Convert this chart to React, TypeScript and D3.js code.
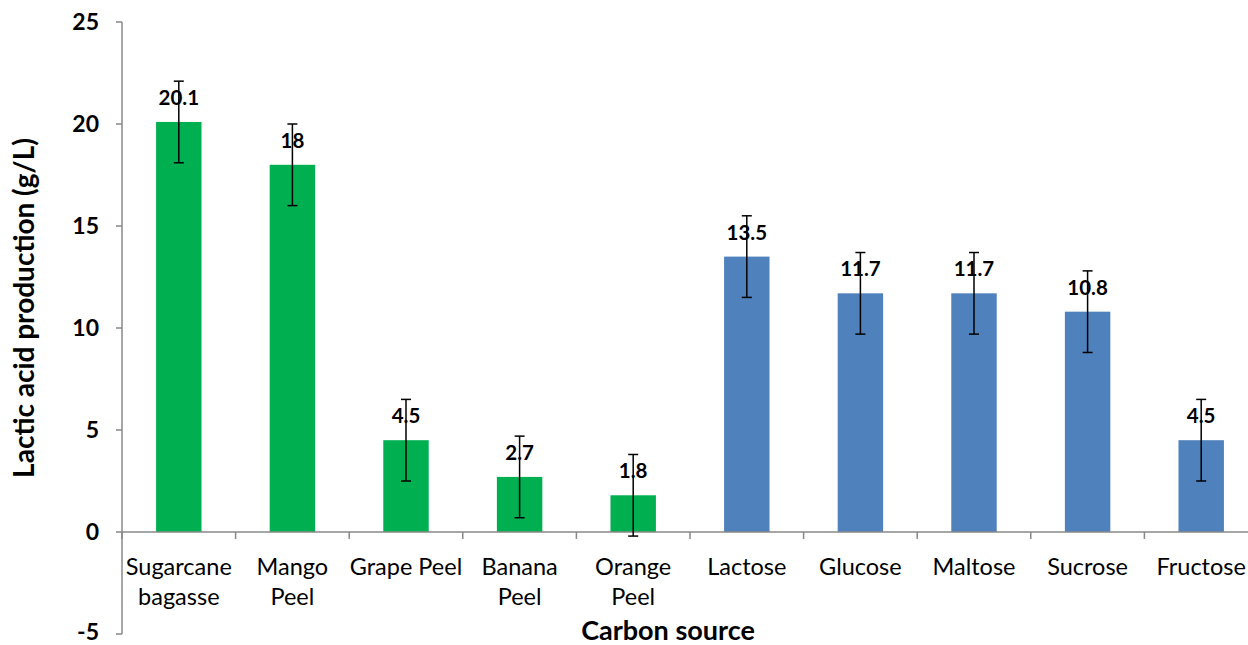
import React from "react";
import * as d3 from "d3";

const categories = [
  ["Sugarcane", "bagasse"],
  ["Mango", "Peel"],
  ["Grape Peel"],
  ["Banana", "Peel"],
  ["Orange", "Peel"],
  ["Lactose"],
  ["Glucose"],
  ["Maltose"],
  ["Sucrose"],
  ["Fructose"],
];
const values = [20.1, 18, 4.5, 2.7, 1.8, 13.5, 11.7, 11.7, 10.8, 4.5];
const errors = [2, 2, 2, 2, 2, 2, 2, 2, 2, 2];
const groups = ["agro", "agro", "agro", "agro", "agro", "sugar", "sugar", "sugar", "sugar", "sugar"];
const yTicks = [-5, 0, 5, 10, 15, 20, 25];

const W = 1248;
const H = 645;
const font = "Lato, 'Open Sans', sans-serif";

export default function App() {
  const left = 122;
  const right = 1258;
  const x = d3
    .scaleBand<number>()
    .domain(d3.range(categories.length))
    .range([left, right])
    .paddingInner(0)
    .paddingOuter(0);
  const y = d3.scaleLinear().domain([-5, 25]).range([634, 22]);
  const bw = x.step() * 0.4;
  const color = (g: string) => (g === "agro" ? "#00B050" : "#4F81BD");
  const axisColor = "#898989";

  return (
    <svg width={W} height={H} style={{ position: "absolute", left: 0, top: 0 }}>
      <rect width={W} height={H} fill="#fff" />
      {values.map((v, i) => {
        const cx = x(i)! + x.step() / 2;
        const top = y(v);
        return (
          <g key={i}>
            <rect x={cx - bw / 2} y={top} width={bw} height={y(0) - top} fill={color(groups[i])} />
          </g>
        );
      })}
      {/* axes */}
      <line x1={left} x2={left} y1={y(25)} y2={y(-5)} stroke={axisColor} strokeWidth={1.5} />
      {yTicks.map((t) => (
        <g key={t}>
          <line x1={left - 6} x2={left} y1={y(t)} y2={y(t)} stroke={axisColor} strokeWidth={1.5} />
          <text
            x={left - 23}
            y={t === -5 ? y(t) - 2 : y(t)}
            dy="0.36em"
            textAnchor="end"
            fontFamily={font}
            fontWeight="bold"
            fontSize={23}
            fill="#000"
          >
            {t}
          </text>
        </g>
      ))}
      <line x1={left} x2={W} y1={y(0)} y2={y(0)} stroke={axisColor} strokeWidth={1.5} />
      {d3.range(categories.length + 1).map((i) => (
        <line
          key={i}
          x1={left + i * x.step()}
          x2={left + i * x.step()}
          y1={y(0)}
          y2={y(0) + 7}
          stroke={axisColor}
          strokeWidth={1.5}
        />
      ))}
      {categories.map((lines, i) => {
        const cx = x(i)! + x.step() / 2;
        return (
          <text key={i} textAnchor="middle" fontFamily={font} fontSize={23.5} fill="#000">
            {lines.map((l, j) => (
              <tspan key={j} x={cx} y={575 + j * 30}>
                {l}
              </tspan>
            ))}
          </text>
        );
      })}
      {/* data labels */}
      {values.map((v, i) => {
        const cx = x(i)! + x.step() / 2;
        return (
          <text
            key={i}
            x={cx}
            y={y(v) - 17}
            textAnchor="middle"
            fontFamily={font}
            fontWeight="bold"
            fontSize={20.5}
            fill="#000"
          >
            {v}
          </text>
        );
      })}
      {/* error bars */}
      {values.map((v, i) => {
        const cx = x(i)! + x.step() / 2;
        const hi = y(v + errors[i]);
        const lo = y(v - errors[i]);
        return (
          <g key={i} stroke="#000" strokeWidth={1.5}>
            <line x1={cx} x2={cx} y1={hi} y2={lo} />
            <line x1={cx - 5} x2={cx + 5} y1={hi} y2={hi} />
            <line x1={cx - 5} x2={cx + 5} y1={lo} y2={lo} />
          </g>
        );
      })}
      <text
        transform={`translate(34, 308) rotate(-90)`}
        textAnchor="middle"
        fontFamily={font}
        fontWeight="bold"
        fontSize={28}
        fill="#000"
      >
        Lactic acid production (g/L)
      </text>
      <text x={668} y={640} textAnchor="middle" fontFamily={font} fontWeight="bold" fontSize={27} fill="#000">
        Carbon source
      </text>
    </svg>
  );
}
